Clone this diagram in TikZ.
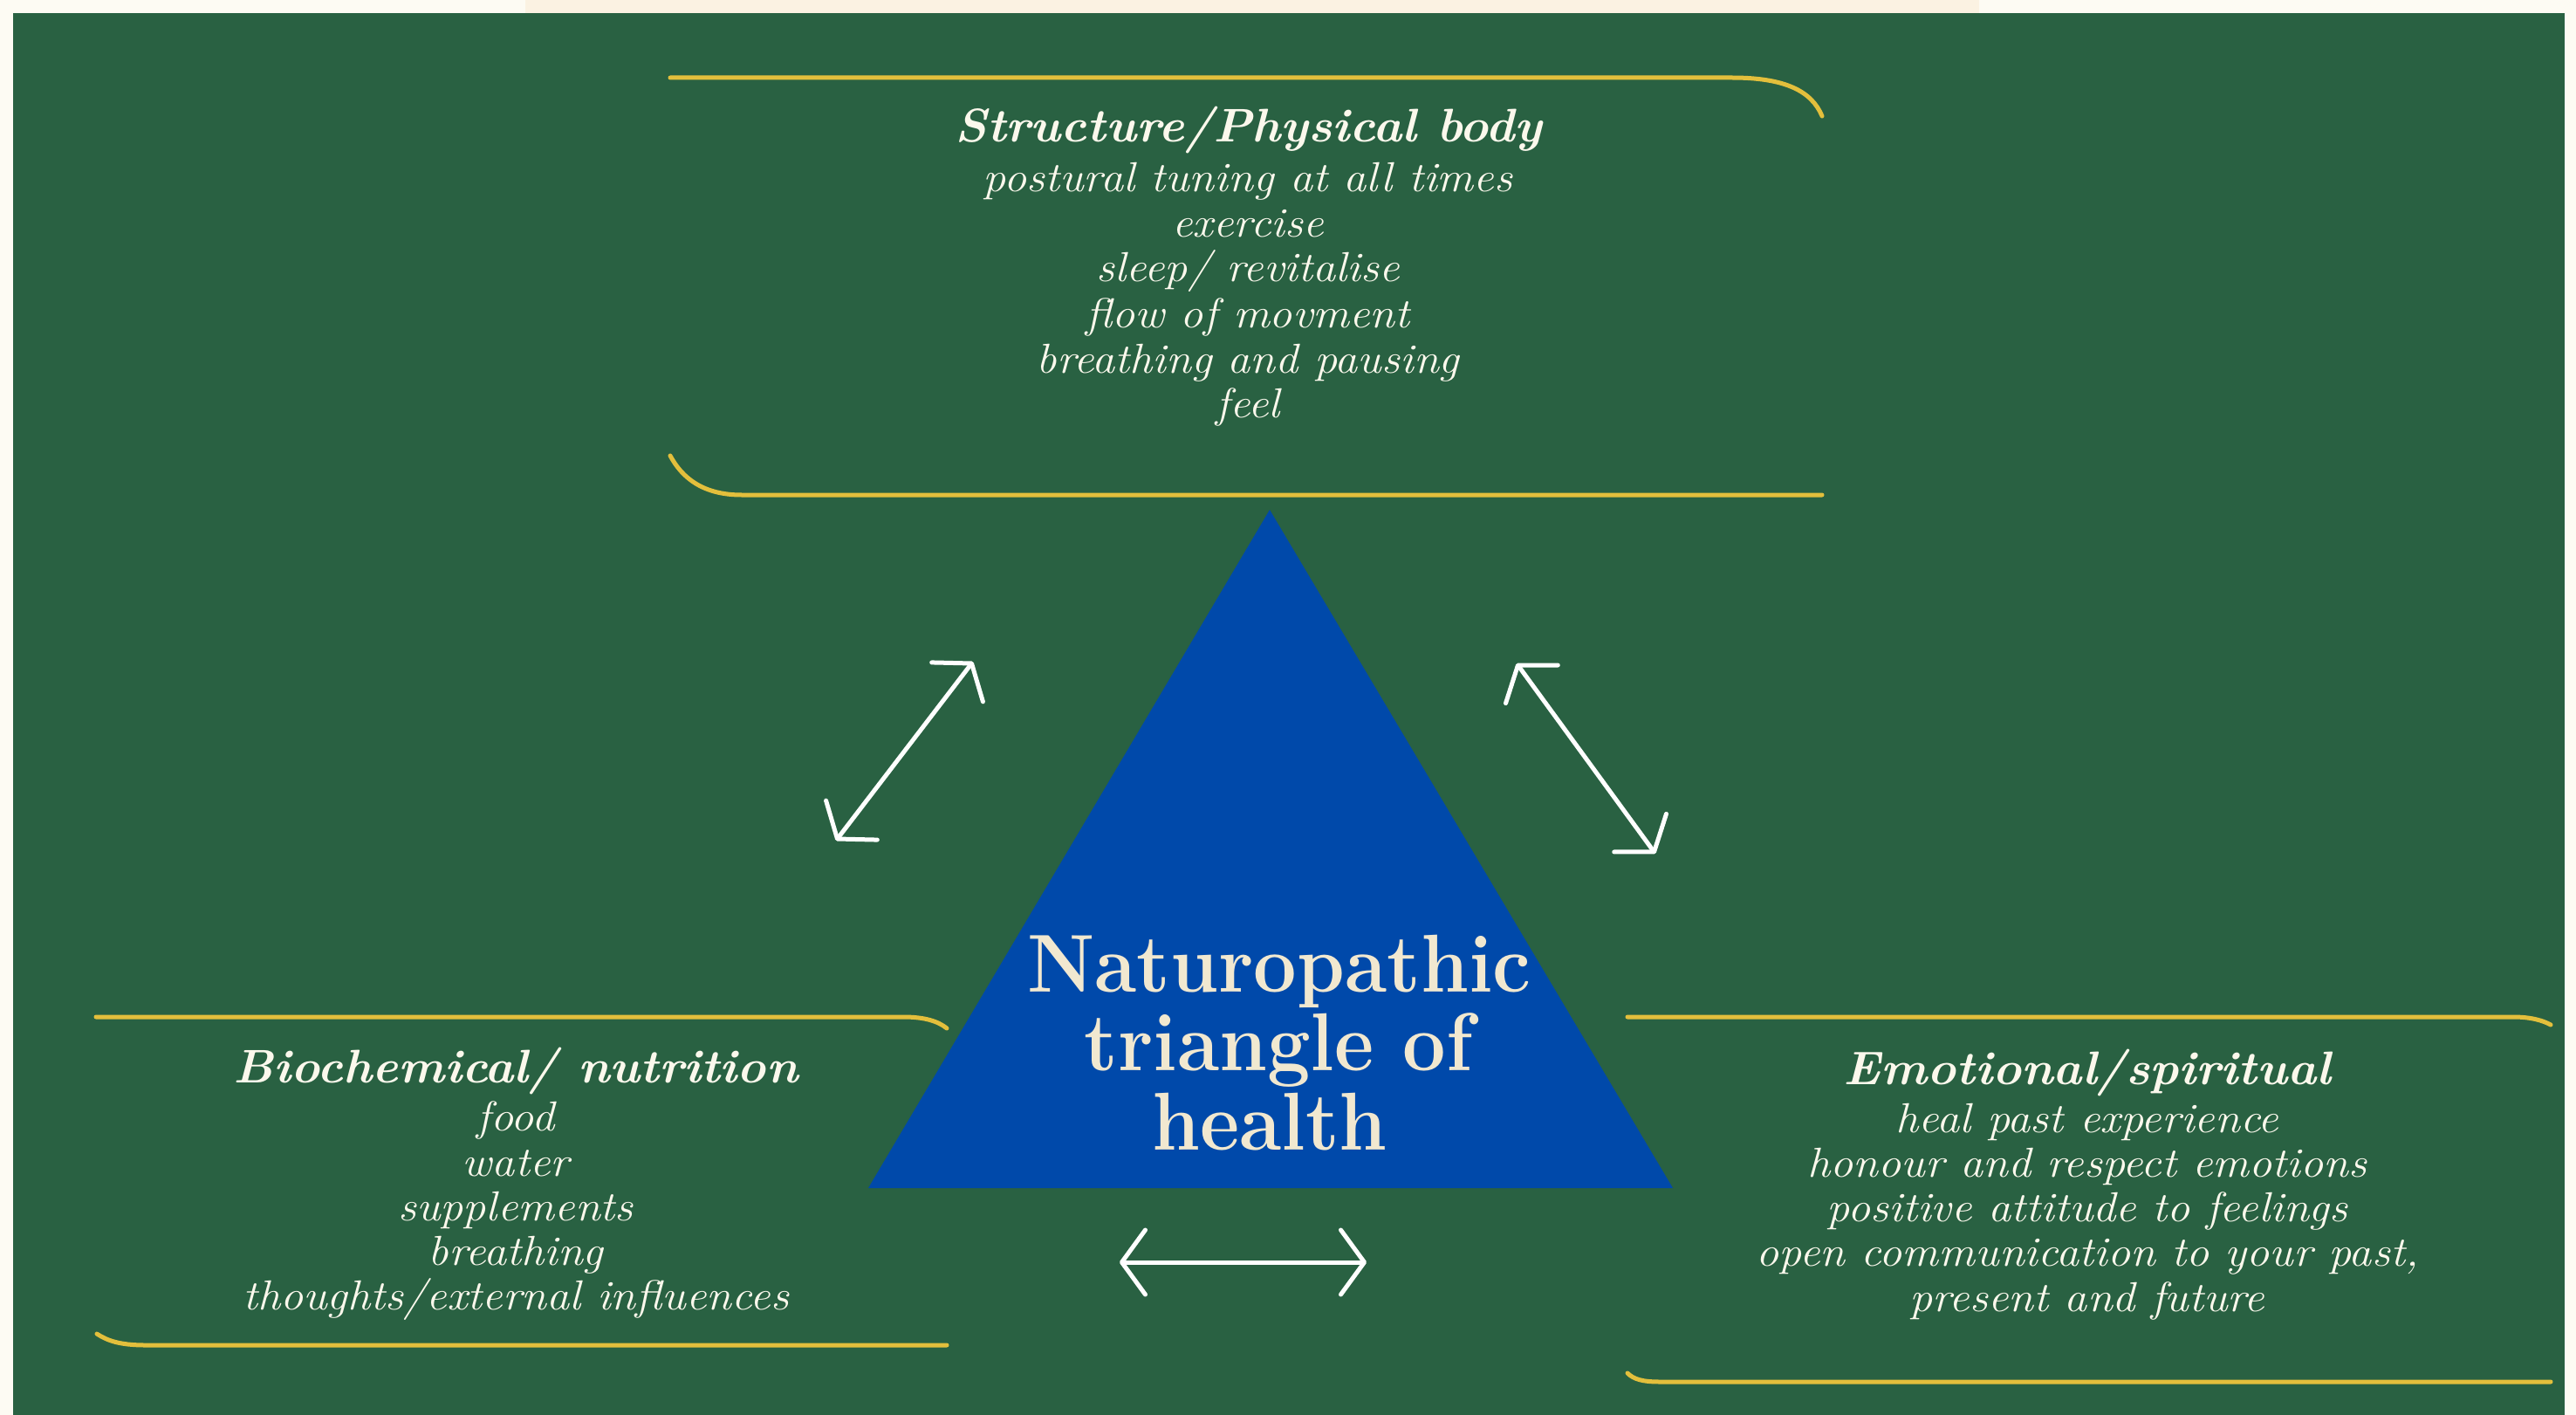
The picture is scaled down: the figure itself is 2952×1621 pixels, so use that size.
\documentclass[tikz,border=0pt]{standalone}
\usepackage{fontspec}
\usetikzlibrary{arrows.meta}
\definecolor{bgcream}{HTML}{FDFBF3}
\definecolor{stripbeige}{HTML}{FBF2E2}
\definecolor{boardgreen}{HTML}{296142}
\definecolor{gold}{HTML}{E3BF3C}
\definecolor{triblue}{HTML}{0049AA}
\definecolor{txtcream}{HTML}{FBF8EC}
\definecolor{tricream}{HTML}{F1E8D0}
\newcommand{\itemline}[1]{\scalebox{1.09}[1]{#1}}
\newcommand{\headline}[1]{\scalebox{1.04}[1]{#1}}
\newcommand{\triline}[1]{\scalebox{1}[1.07]{#1}}
\begin{document}
\begin{tikzpicture}[x=1pt,y=-1pt,
  rule/.style={draw=gold,line width=5pt,line cap=round},
  dbl/.style={draw=white,line width=5pt,line cap=round,
    {Straight Barb[length=27pt,width=74pt,round]}-{Straight Barb[length=27pt,width=74pt,round]}},
  itemtxt/.style={text=txtcream,anchor=base,inner sep=0pt,
    font=\fontsize{48}{52}\selectfont\itshape},
  headtxt/.style={text=txtcream,anchor=base,inner sep=0pt,
    font=\fontsize{54}{60}\selectfont\bfseries\itshape},
  tritxt/.style={text=tricream,anchor=base,inner sep=0pt,
    font=\fontsize{88}{90}\selectfont\bfseries},
]
\useasboundingbox (0,0) rectangle (2952,1621);
% background
\fill[bgcream] (0,0) rectangle (2952,1621);
\fill[stripbeige] (602,0) rectangle (2268,15);
\fill[boardgreen] (15,15) rectangle (2939,1621);

% triangle
\coordinate (apex) at (1455,584);
\coordinate (bl) at (995,1361);
\coordinate (br) at (1917,1361);
\fill[triblue] (apex) -- (br) -- (bl) -- cycle;
\node[tritxt] (tri1) at (1466,1136) {\triline{Naturopathic}};
\node[tritxt] (tri2) at (1465,1226) {\triline{triangle of}};
\node[tritxt] (tri3) at (1455,1317) {\triline{health}};

% top box rules
\draw[rule] (768,89) -- (1985,89) .. controls (2045,89) and (2076,104) .. (2088,133);
\draw[rule] (768,522) .. controls (782,548) and (806,567) .. (850,567) -- (2088,567);
\node[headtxt] (toph) at (1431,163) {\headline{Structure/Physical body}};
\foreach \yy/\txt [count=\i] in {220/{postural tuning at all times},272/{exercise},
  323/{sleep/ revitalise},375/{flow of movment},427/{breathing and pausing},478/{feel}}
  \node[itemtxt] (top\i) at (1430,\yy) {\itemline{\txt}};

% bottom-left box rules
\draw[rule] (110,1165) -- (1035,1165) .. controls (1060,1165) and (1075,1170) .. (1085,1178);
\draw[rule] (111,1528) .. controls (122,1535) and (135,1541) .. (167,1541) -- (1085,1541);
\node[headtxt] (blh) at (591,1240) {\headline{Biochemical/ nutrition}};
\foreach \yy/\txt [count=\i] in {1295/{food},1347/{water},1398/{supplements},
  1449/{breathing},1500/{thoughts/external influences}}
  \node[itemtxt] (bl\i) at (591,\yy) {\itemline{\txt}};

% bottom-right box rules
\draw[rule] (1865,1165) -- (2880,1165) .. controls (2900,1165) and (2914,1169) .. (2923,1174);
\draw[rule] (1865,1573) .. controls (1872,1580) and (1882,1583) .. (1902,1583) -- (2923,1583);
\node[headtxt] (brh) at (2392,1242) {\headline{Emotional/spiritual}};
\foreach \yy/\txt [count=\i] in {1297/{heal past experience},1348/{honour and respect emotions},
  1399/{positive attitude to feelings},1450/{open communication to your past,},
  1502/{present and future}}
  \node[itemtxt] (br\i) at (2392,\yy) {\itemline{\txt}};

% double arrows
\coordinate (a1s) at (958,963);  \coordinate (a1e) at (1115,758);
\coordinate (a2s) at (1738,760); \coordinate (a2e) at (1897,978);
\coordinate (a3s) at (1283,1446); \coordinate (a3e) at (1566,1446);
\draw[dbl] (a1s) -- (a1e);
\draw[dbl] (a2s) -- (a2e);
\draw[dbl] (a3s) -- (a3e);
\end{tikzpicture}
\end{document}
